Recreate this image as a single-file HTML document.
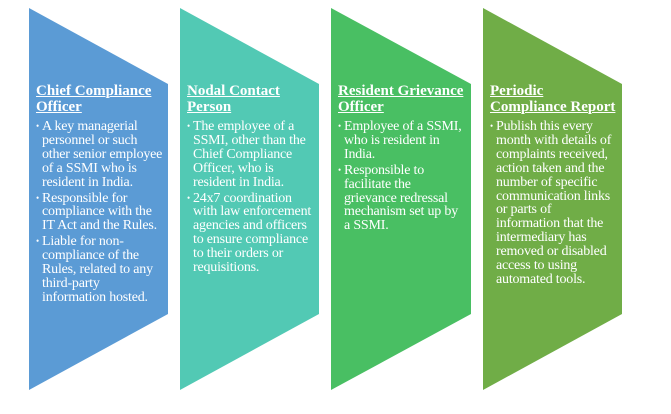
<!DOCTYPE html>
<html><head><style>
body{margin:0;width:671px;height:414px;background:#fff;position:relative;overflow:hidden;font-family:"Liberation Serif",serif;color:#fff}
svg{position:absolute;left:0;top:0}
.c{position:absolute;top:84px;white-space:nowrap}
h3{margin:0 0 5px 0;font-size:15px;line-height:15.5px;font-weight:bold;text-decoration:underline;text-underline-offset:1px;text-decoration-thickness:1px}
ul{margin:0;padding:0;list-style:none}
li{position:relative;padding-left:6px;font-size:14px;line-height:13.9px;margin-bottom:2px;letter-spacing:-0.2px}
li:before{content:"•";position:absolute;left:0;top:0;font-size:9px}
</style></head><body>
<svg width="671" height="414">
<polygon points="29,8 168,84 168,314 29,390" fill="#5b9bd5"/>
<polygon points="180,8 319,84 319,314 180,390" fill="#52c9b4"/>
<polygon points="331,8 471,84 471,314 331,390" fill="#49bf63"/>
<polygon points="483,8 622,84 622,314 483,390" fill="#70ad47"/>
</svg>
<div class="c" style="left:36px"><h3>Chief Compliance<br>Officer</h3><ul>
<li>A key managerial<br>personnel or such<br>other senior employee<br>of a SSMI who is<br>resident in India.</li>
<li>Responsible for<br>compliance with the<br>IT Act and the Rules.</li>
<li>Liable for non-<br>compliance of the<br>Rules, related to any<br>third-party<br>information hosted.</li></ul></div>
<div class="c" style="left:187px"><h3>Nodal Contact<br>Person</h3><ul>
<li>The employee of a<br>SSMI, other than the<br>Chief Compliance<br>Officer, who is<br>resident in India.</li>
<li>24x7 coordination<br>with law enforcement<br>agencies and officers<br>to ensure compliance<br>to their orders or<br>requisitions.</li></ul></div>
<div class="c" style="left:338px"><h3>Resident Grievance<br>Officer</h3><ul>
<li>Employee of a SSMI,<br>who is resident in<br>India.</li>
<li>Responsible to<br>facilitate the<br>grievance redressal<br>mechanism set up by<br>a SSMI.</li></ul></div>
<div class="c" style="left:490px"><h3>Periodic<br>Compliance Report</h3><ul>
<li>Publish this every<br>month with details of<br>complaints received,<br>action taken and the<br>number of specific<br>communication links<br>or parts of<br>information that the<br>intermediary has<br>removed or disabled<br>access to using<br>automated tools.</li></ul></div>
</body></html>
